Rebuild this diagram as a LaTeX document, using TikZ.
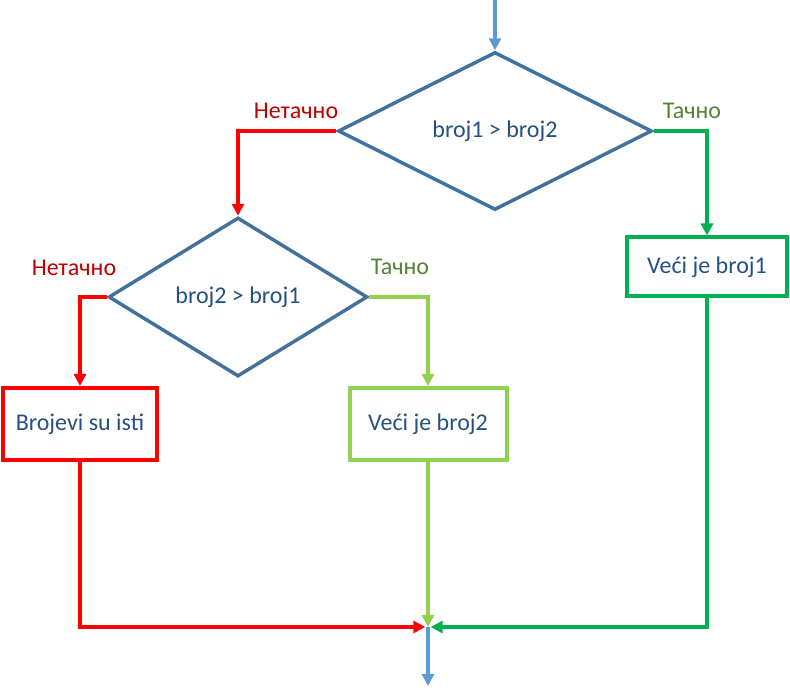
\documentclass[tikz,border=0pt]{standalone}
\usepackage{fontspec}
\setmainfont{Carlito}
\usetikzlibrary{calc, arrows.meta, shapes.geometric}

\definecolor{linkblue}{RGB}{91,155,213}
\definecolor{shapeblue}{RGB}{65,113,156}
\definecolor{textblue}{RGB}{37,80,130}
\definecolor{boxgreen}{RGB}{0,176,80}
\definecolor{lightgreen}{RGB}{146,208,80}
\definecolor{falsered}{RGB}{192,0,0}
\definecolor{truegreen}{RGB}{84,130,53}

\tikzset{
    test/.style={diamond, draw=shapeblue, line width=2.6pt, inner sep=0pt, text=textblue},
    result/.style={rectangle, draw, line width=3pt, inner sep=0pt, text=textblue},
    flow/.style={line width=2.3pt, -{Triangle[length=9pt, width=9pt]}},
}

\begin{document}
\begin{tikzpicture}[x=0.75pt, y=-0.75pt, font=\fontsize{18}{21}\selectfont]
        \useasboundingbox (0,0) rectangle (790,698);

        \coordinate (start) at (495,0);
        \coordinate (join) at (428,627);
        \coordinate (stop) at (428,686);

        \node[test, minimum width=314*0.75pt, minimum height=158*0.75pt] (first) at (495,131) {broj1 > broj2};
        \node[test, minimum width=259*0.75pt, minimum height=159*0.75pt] (second) at (238,297) {broj2 > broj1};
        \node[result, draw=boxgreen, minimum width=160*0.75pt, minimum height=59*0.75pt] (bigone) at (707,267) {Veći je broj1};
        \node[result, draw=red, minimum width=154*0.75pt, minimum height=72*0.75pt] (same) at (80,424) {Brojevi su isti};
        \node[result, draw=lightgreen, minimum width=157*0.75pt, minimum height=72*0.75pt] (bigtwo) at (428,424) {Veći je broj2};

        \draw[flow, color=linkblue] (start) -- (first.north);
        \draw[flow, color=red] (first.west) -| (second.north);
        \draw[flow, color=boxgreen] (first.east) -| (bigone.north);
        \draw[flow, color=red] (second.west) -| (same.north);
        \draw[flow, color=lightgreen] (second.east) -| (bigtwo.north);
        \draw[flow, color=red, shorten >=2pt] (same.south) |- (join);
        \draw[flow, color=lightgreen] (bigtwo.south) -- (join);
        \draw[flow, color=boxgreen, shorten >=2pt] (bigone.south) |- (join);
        \draw[flow, color=linkblue] (join) -- (stop);

        \node[text=falsered] (no1) at (296,111) {Нетачно};
        \node[text=truegreen] (yes1) at (692,111) {Тачно};
        \node[text=falsered] (no2) at (74,268) {Нетачно};
        \node[text=truegreen] (yes2) at (400,267) {Тачно};
    \end{tikzpicture}
\end{document}
